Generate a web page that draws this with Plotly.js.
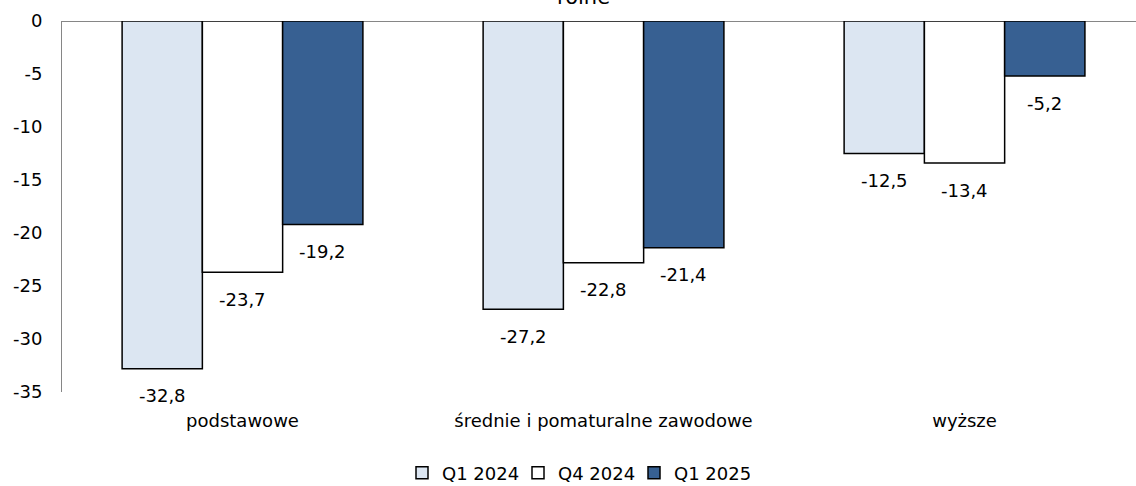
<!DOCTYPE html>
<html>
<head>
<meta charset="utf-8">
<script src="https://cdn.plot.ly/plotly-3.0.1.min.js"></script>
<style>
html,body{margin:0;padding:0;background:#fff;overflow:hidden;}
#chart{width:1136px;height:486px;}
</style>
</head>
<body>
<div id="chart"></div>
<script>
const categories = ["podstawowe", "średnie i pomaturalne zawodowe", "wyższe"];
const seriesNames = ["Q1 2024", "Q4 2024", "Q1 2025"];
const q1_2024 = [-32.8, -27.2, -12.5];
const q4_2024 = [-23.7, -22.8, -13.4];
const q1_2025 = [-19.2, -21.4, -5.2];
const yTicks = [0, -5, -10, -15, -20, -25, -30, -35];
const titleText = "rolne";

const colors = ["#DCE6F2", "#FFFFFF", "#376092"];
const seriesValues = [q1_2024, q4_2024, q1_2025];
const FONT = "DejaVu Sans, Verdana, sans-serif";
const FS = 18;

const W = 1136, H = 486;
const M = {l: 62, r: 0, t: 21, b: 94};
const xRange = [-0.5, 2.475];
const BARGAP = 0.333;

const fmt = v => v.toFixed(1).replace(".", ",");

const traces = seriesValues.map((vals, i) => ({
  type: "bar",
  name: seriesNames[i],
  x: categories,
  y: vals,
  marker: {color: colors[i], line: {color: "#000", width: 1.5}},
  hoverinfo: "none"
}));

// data labels, placed below each bar's end
const pxPerCat = (W - M.l - M.r) / (xRange[1] - xRange[0]);
const barPx = pxPerCat * (1 - BARGAP) / seriesValues.length;
const annotations = [];
seriesValues.forEach((vals, i) => {
  vals.forEach((v, j) => {
    annotations.push({
      x: categories[j], y: v, xref: "x", yref: "y",
      xshift: (i - (seriesValues.length - 1) / 2) * barPx,
      yshift: -27, yanchor: "middle", xanchor: "center",
      text: fmt(v), showarrow: false,
      font: {family: FONT, size: FS, color: "#000"}
    });
  });
});
// chart title, partly cut off at the top edge as in the original
annotations.push({
  x: (583 - M.l) / (W - M.l - M.r), y: 1, xref: "paper", yref: "paper",
  xanchor: "center", yanchor: "bottom", yshift: 10,
  text: titleText, showarrow: false,
  font: {family: FONT, size: 21, color: "#000"}
});

const layout = {
  width: W,
  height: H,
  margin: M,
  paper_bgcolor: "#fff",
  plot_bgcolor: "#fff",
  font: {family: FONT, size: FS, color: "#000"},
  barmode: "group",
  bargap: BARGAP,
  bargroupgap: 0,
  separators: ", ",
  showlegend: true,
  legend: {orientation: "h", x: 576 / W, xref: "container", xanchor: "center",
           y: 1 - 473 / H, yref: "container", yanchor: "middle",
           font: {family: FONT, size: FS, color: "#000"}, traceorder: "normal",
           itemwidth: 30, entrywidth: 71, entrywidthmode: "pixels"},
  annotations: annotations,
  xaxis: {
    type: "category",
    range: xRange,
    showgrid: false, zeroline: false, showline: false,
    ticks: "", ticklabelstandoff: 16,
    tickfont: {family: FONT, size: FS, color: "#000"}
  },
  yaxis: {
    range: [-35, 0],
    tickvals: yTicks,
    ticktext: yTicks.map(v => String(v)),
    showgrid: false,
    zeroline: true, zerolinecolor: "#868686", zerolinewidth: 1,
    showline: true, linecolor: "#868686", linewidth: 1,
    ticks: "", ticklabelstandoff: 15,
    tickfont: {family: FONT, size: FS, color: "#000"}
  }
};

Plotly.newPlot("chart", traces, layout, {displayModeBar: false, staticPlot: true});
</script>
</body>
</html>
